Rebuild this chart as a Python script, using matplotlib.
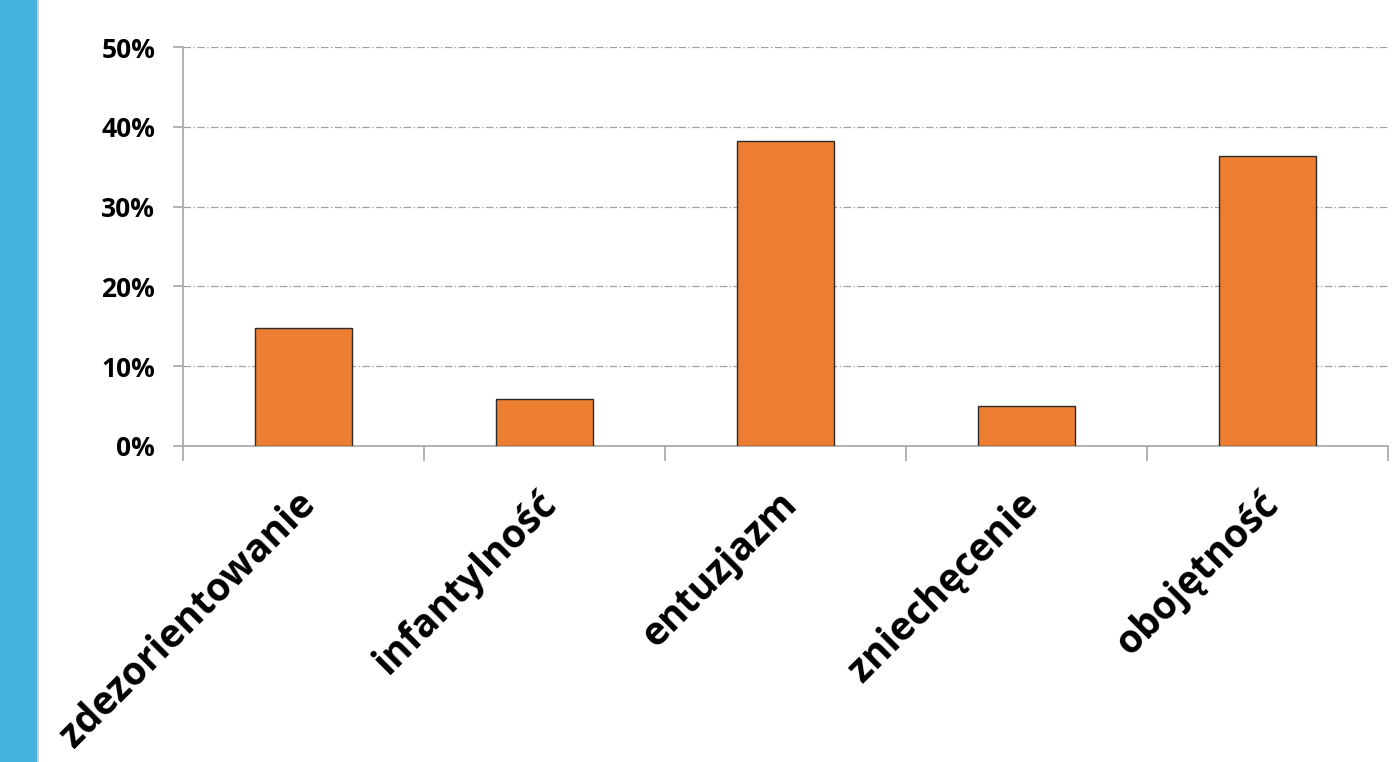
import numpy as np
import matplotlib.pyplot as plt
import matplotlib.transforms as mtransforms
from matplotlib.patches import Rectangle
from matplotlib.ticker import FixedLocator, PercentFormatter

categories = ['zdezorientowanie', 'infantylność', 'entuzjazm', 'zniechęcenie', 'obojętność']
values = [14.8, 5.9, 38.2, 5.0, 36.3]
y_ticks = [0, 10, 20, 30, 40, 50]

plt.rcParams['font.family'] = ['Open Sans', 'DejaVu Sans']

fig = plt.figure(figsize=(13.95, 7.62), dpi=100)
fig.patches.append(Rectangle((0, 0), 37 / 1395, 1, transform=fig.transFigure,
                             facecolor='#45B3E0', edgecolor='none'))
fig.patches.append(Rectangle((37 / 1395, 0), 2 / 1395, 1, transform=fig.transFigure,
                             facecolor='#D0D0D0', edgecolor='none'))

ax = fig.add_axes([0.1312, 0.4147, 0.8638, 0.5236])
x = np.arange(len(categories))
ax.bar(x, values, width=0.4, color='#ED7D31', edgecolor='#2B2B2B', linewidth=1.0, zorder=3)

ax.set_xlim(-0.5, len(categories) - 0.5)
ax.set_ylim(0, 50)
ax.set_yticks(y_ticks)
ax.yaxis.set_major_formatter(PercentFormatter(decimals=0))
ax.grid(axis='y', color='#A0A0A0', linestyle=(0, (6, 2, 1, 2)), linewidth=0.9, zorder=0)

ax.set_xticks(x)
ax.set_xticklabels(categories, rotation=45, ha='right', rotation_mode='anchor',
                   fontsize=28, fontweight='bold')
ax.xaxis.set_minor_locator(FixedLocator(np.arange(len(categories) + 1) - 0.5))
ax.tick_params(axis='x', which='major', length=0, pad=22)
ax.tick_params(axis='x', which='minor', length=11, color='#A6A6A6', width=1.2)
ax.tick_params(axis='y', length=7, color='#A6A6A6', width=1.2, labelsize=19, pad=13)
for lbl in ax.get_yticklabels():
    lbl.set_fontweight('bold')

# nudge the slanted category names a little down and left
shift = mtransforms.ScaledTranslation(-0.08, -0.08, fig.dpi_scale_trans)
for lbl in ax.get_xticklabels():
    lbl.set_transform(lbl.get_transform() + shift)

for side in ['top', 'right']:
    ax.spines[side].set_visible(False)
for side in ['left', 'bottom']:
    ax.spines[side].set_color('#A6A6A6')
    ax.spines[side].set_linewidth(1.2)

fig.savefig('out.png', dpi=100)
